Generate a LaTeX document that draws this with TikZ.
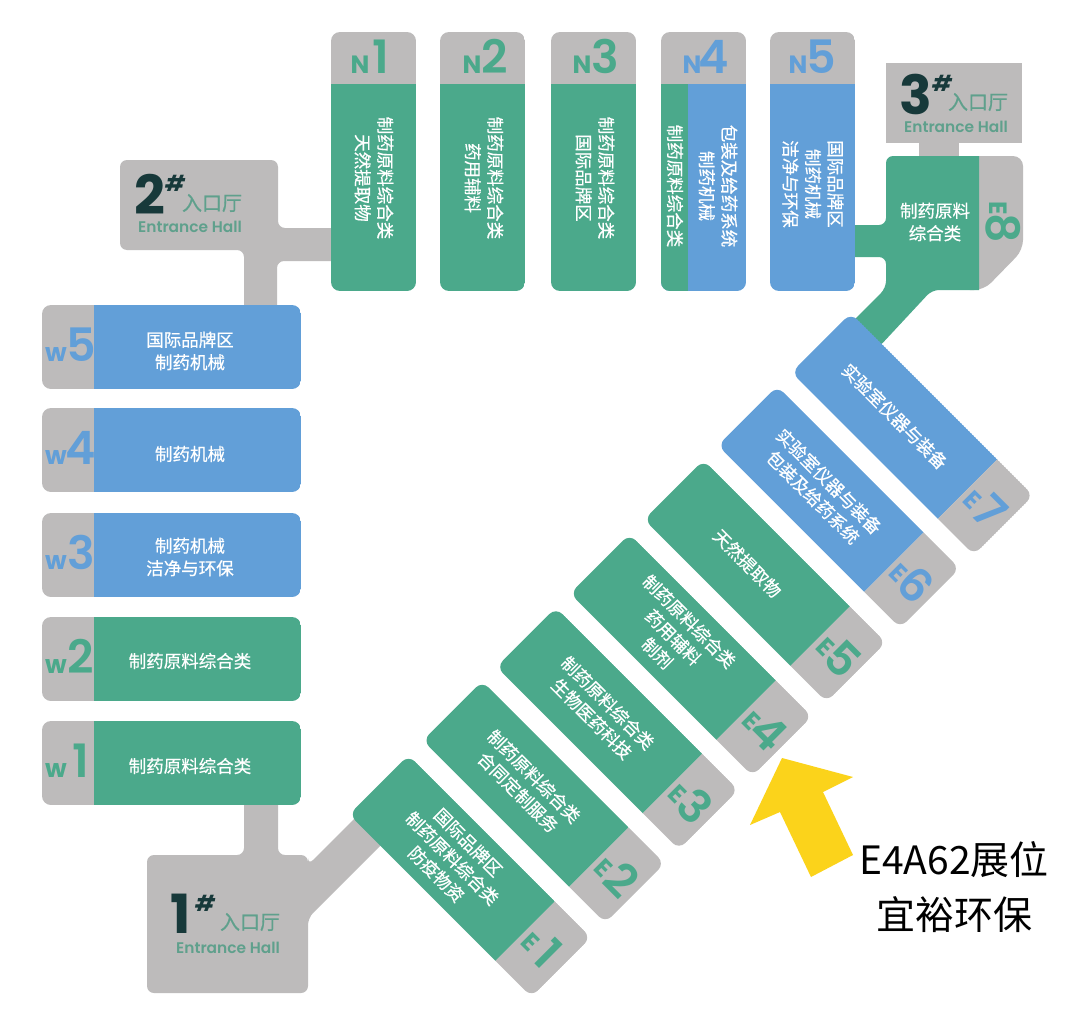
\documentclass[tikz,border=0pt]{standalone}
\usepackage{fontspec}
\setmainfont{Liberation Sans}
\newfontfamily\cjk[FakeBold=0.5]{Noto Sans CJK SC}
\newfontfamily\cjkplain{Noto Sans CJK SC}
\newfontfamily\lat{Poppins}
\newfontfamily\latm{Poppins SemiBold}
\definecolor{hgreen}{HTML}{4BA98B}
\definecolor{hblue}{HTML}{629FD8}
\definecolor{hgray}{HTML}{BDBBBB}
\definecolor{hdark}{HTML}{17393A}
\definecolor{hlab}{HTML}{5FA08C}
\definecolor{hyel}{HTML}{FBD31B}
\tikzset{
  x=1pt,y=-1pt,
  htext/.style={text=white,font=\cjk\fontsize{17.5}{22.5}\selectfont,align=center,inner sep=0pt},
  smalll/.style={font=\lat\bfseries\fontsize{25}{25}\selectfont,inner sep=0pt,anchor=base},
  bigl/.style={font=\latm\fontsize{46}{46}\selectfont,inner sep=0pt,anchor=base},
  entnum/.style={font=\lat\bfseries\fontsize{54}{54}\selectfont,text=hdark,inner sep=0pt},
  enthash/.style={font=\lat\bfseries\itshape\fontsize{22}{22}\selectfont,text=hdark,inner sep=0pt},
  entcn/.style={font=\cjk\fontsize{20}{20}\selectfont,text=hlab,inner sep=0pt},
  enten/.style={font=\latm\fontsize{15.4}{16}\selectfont,text=hlab,inner sep=0pt},
  blackt/.style={font=\cjkplain\fontsize{39}{39}\selectfont,text=black,inner sep=0pt},
}
% left x, colour, N x, digit x, digit
\newcommand{\nhall}[5]{%
  \begin{scope}
    \clip[rounded corners=9pt] (#1,32) rectangle (#1+85,291);
    \fill[hgray] (#1,32) rectangle (#1+85,84);
    \fill[#2] (#1,84) rectangle (#1+85,291);
    \ifnum#1=661 \fill[hgreen] (#1,84) rectangle (#1+27,291);\fi
  \end{scope}
  \node[smalll,text=#2] at (#3,73) {N};
  \node[bigl,text=#2] at (#4,73) {#5};
}
% top y, colour, digit
\newcommand{\whall}[3]{%
  \begin{scope}
    \clip[rounded corners=9pt] (42,#1) rectangle (301,#1+84);
    \fill[hgray] (42,#1) rectangle (94,#1+84);
    \fill[#2] (94,#1) rectangle (301,#1+84);
  \end{scope}
  \node[smalll,text=#2] at (56,#1+56) {w};
  \node[bigl,text=#2] at (81,#1+56) {#3};
}
% cx, cy, colour, digit, text
\newcommand{\ehall}[5]{%
  \begin{scope}[shift={(#1,#2)},rotate=-45]
    \begin{scope}
      \clip[rounded corners=9pt] (-129,-42) rectangle (129,42);
      \fill[#3] (-129,-42) rectangle (78,42);
      \fill[hgray] (78,-42) rectangle (129,42);
    \end{scope}
    \node[htext,rotate=-45] at (-25,0) {#5};
    \node[font=\lat\bfseries\fontsize{25}{25}\selectfont,text=#3,inner sep=0pt,rotate=-45] at (89,4) {E};
    \node[font=\latm\fontsize{46}{46}\selectfont,text=#3,inner sep=0pt,rotate=-45] at (110,0) {#4};
  \end{scope}
}
\begin{document}
\begin{tikzpicture}
\useasboundingbox (0,0) rectangle (1080,1017);
\fill[white] (0,0) rectangle (1080,1017);
% entrance 2
\fill[hgray,rounded corners=7pt] (120,160) -- (278,160) -- (278,228) -- (345,228) -- (345,261) -- (277,261) -- (277,320) -- (244,320) -- (244,250) -- (120,250) -- cycle;
% entrance 1
\fill[hgray,rounded corners=7pt] (147,855) -- (244,855) -- (244,790) -- (278,790) -- (278,855) -- (308,855) -- (308,865) -- (363,810) -- (390,836) -- (308,918) -- (308,993) -- (147,993) -- cycle;
% entrance 3
\fill[hgray] (886,63) rectangle (1022,143);
\fill[hgray] (919,143) rectangle (959,165);
% E8
\fill[hgray,rounded corners=10pt] (960,156) -- (1023,156) -- (1023,250) -- (984,290) -- (960,290) -- cycle;
\begin{scope}
  \clip (840,150) rectangle (979,360);
  \fill[hgreen,rounded corners=7pt] (1000,290) -- (1000,156) -- (886,156) -- (886,225) -- (840,225) -- (840,257) -- (886,257) -- (886,288) -- (840,334) -- (878,348) -- (932,290) -- cycle;
\end{scope}
% N halls
\nhall{331}{hgreen}{360}{381}{1}
\nhall{440}{hgreen}{472}{495}{2}
\nhall{551}{hgreen}{582}{605}{3}
\nhall{661}{hblue}{692}{714}{4}
\nhall{770}{hblue}{798}{821}{5}
\node[htext,rotate=-90] (n1t) at (374,178) {制药原料综合类\\天然提取物};
\node[htext,rotate=-90] (n2t) at (484,178) {制药原料综合类\\药用辅料};
\node[htext,rotate=-90] (n3t) at (595,178) {制药原料综合类\\国际品牌区};
\node[htext,rotate=-90] (n4a) at (675,186) {制药原料综合类};
\node[htext,rotate=-90] (n4b) at (718,186) {包装及给药系统\\制药机械};
\node[htext,rotate=-90] (n5t) at (813,184) {国际品牌区\\制药机械\\洁净与环保};
% W halls
\whall{305}{hblue}{5}
\whall{408}{hblue}{4}
\whall{513}{hblue}{3}
\whall{617}{hgreen}{2}
\whall{721}{hgreen}{1}
\node[htext] (w5t) at (190,351) {国际品牌区\\制药机械};
\node[htext] (w4t) at (190,454) {制药机械};
\node[htext] (w3t) at (190,557) {制药机械\\洁净与环保};
\node[htext] (w2t) at (190,661) {制药原料综合类};
\node[htext] (w1t) at (190,766) {制药原料综合类};
% E halls
\ehall{470}{876}{hgreen}{1}{国际品牌区\\制药原料综合类\\防疫物资}
\ehall{543.7}{802}{hgreen}{2}{制药原料综合类\\合同定制服务}
\ehall{617.4}{728.5}{hgreen}{3}{制药原料综合类\\生物医药科技}
\ehall{691}{655}{hgreen}{4}{制药原料综合类\\药用辅料\\制剂}
\ehall{765}{581}{hgreen}{5}{天然提取物}
\ehall{838.7}{507}{hblue}{6}{实验室仪器与装备\\包装及给药系统}
\ehall{912.4}{434}{hblue}{7}{实验室仪器与装备}
\node[htext] (e8t) at (935,222) {制药原料\\综合类};
\node[font=\lat\bfseries\fontsize{25}{25}\selectfont,text=hgreen,inner sep=0pt,rotate=-90] (e8a) at (998,208) {E};
\node[font=\latm\fontsize{46}{46}\selectfont,text=hgreen,inner sep=0pt,rotate=-90] (e8b) at (1003,228) {8};
% entrance labels
\node[entnum] (n1) at (181,914) {1};
\node[enthash] (h1) at (205,903) {\#};
\node[entcn] (c1) at (250,922) {入口厅};
\node[enten] (t1) at (228,948) {Entrance Hall};
\node[entnum] (n2) at (150,194) {2};
\node[enthash] (h2) at (175,183) {\#};
\node[entcn] (c2) at (212,203) {入口厅};
\node[enten] (t2) at (190,227) {Entrance Hall};
\node[entnum] (n3) at (916,94) {3};
\node[enthash] (h3) at (942,83) {\#};
\node[entcn] (c3) at (978,102) {入口厅};
\node[enten] (t3) at (956,127) {Entrance Hall};
% yellow arrow
\fill[hyel] (782,758) -- (853,777) -- (823,792) -- (853,855) -- (811,877) -- (780,812) -- (750,825) -- cycle;
\node[blackt] (a1) at (954,860) {E4A62展位};
\node[blackt] (a2) at (954,915) {宜裕环保};
\end{tikzpicture}
\end{document}
